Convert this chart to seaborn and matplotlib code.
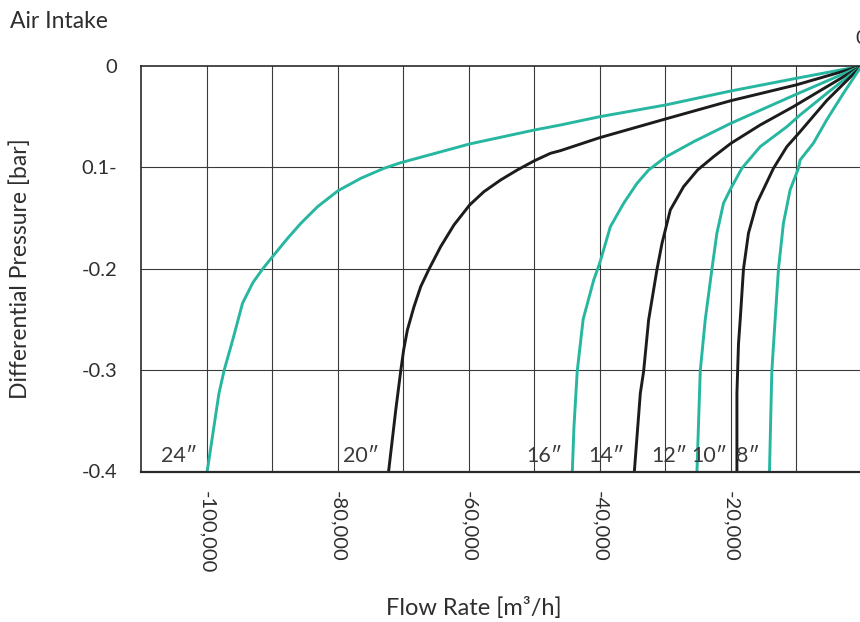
import matplotlib
matplotlib.use("Agg")
import matplotlib.pyplot as plt
import seaborn as sns
import pandas as pd

# ---- data ----
sizes = ["24″", "20″", "16″", "14″", "12″", "10″", "8″"]
colors = ["teal", "black", "teal", "black", "teal", "black", "teal"]

flow_24 = [0, 10000, 20000, 29950, 39970, 45960, 49920, 59830, 70350, 72900, 76450, 79910,
           83050, 85600, 87620, 89910, 91440, 92900, 94500, 96000, 97300, 98100, 99900]
dp_24 = [0, -0.0122, -0.0247, -0.0385, -0.050, -0.0582, -0.0631, -0.0769, -0.0954, -0.1009,
         -0.1108, -0.123, -0.1388, -0.1552, -0.170, -0.188, -0.2003, -0.2135, -0.2340, -0.2703,
         -0.300, -0.323, -0.400]

flow_20 = [0, 10000, 19940, 29950, 39970, 45960, 47480, 49920, 52560, 55110, 57650, 59830,
           62220, 64250, 66040, 67300, 68320, 69330, 69900, 70350, 71100, 72200]
dp_20 = [0, -0.0187, -0.0342, -0.0523, -0.0707, -0.0835, -0.0861, -0.0934, -0.1026, -0.1125,
         -0.124, -0.1371, -0.1568, -0.1782, -0.2005, -0.2177, -0.2374, -0.2604, -0.280, -0.301,
         -0.339, -0.400]

flow_16 = [0, 10000, 19940, 25640, 29950, 32500, 34270, 36310, 38340, 39970, 40880, 42500,
           43400, 43900, 44150]
dp_16 = [0, -0.028, -0.0565, -0.0747, -0.090, -0.1026, -0.1157, -0.1354, -0.1585, -0.1946,
         -0.211, -0.250, -0.301, -0.356, -0.400]

flow_14 = [0, 10400, 15470, 19940, 22590, 25030, 27160, 29190, 30460, 31220, 32500, 33260,
           33770, 34680]
dp_14 = [0, -0.0401, -0.0582, -0.0763, -0.0895, -0.1026, -0.119, -0.142, -0.175, -0.2005,
         -0.2505, -0.301, -0.323, -0.400]

flow_12 = [0, 5300, 9375, 11400, 15470, 18260, 19940, 21070, 22080, 22840, 23860, 24620, 25120]
dp_12 = [0, -0.027, -0.0483, -0.0599, -0.0796, -0.1009, -0.1206, -0.1354, -0.165, -0.2005,
         -0.2505, -0.301, -0.400]

flow_10 = [0, 5300, 9375, 11400, 13440, 15980, 17260, 18020, 18520, 18780, 19020, 19020]
dp_10 = [0, -0.034, -0.0648, -0.0796, -0.1009, -0.1354, -0.165, -0.2005, -0.2505, -0.274,
         -0.323, -0.400]

flow_8 = [0, 2770, 5300, 7350, 9375, 9630, 10900, 11920, 12680, 13190, 13690, 14050]
dp_8 = [0, -0.027, -0.053, -0.0762, -0.0927, -0.1009, -0.1223, -0.1552, -0.2005, -0.2505,
        -0.301, -0.400]

grid_x = [100000, 90000, 80000, 70000, 60000, 50000, 40000, 30000, 20000, 10000]
grid_y = [-0.1, -0.2, -0.3]
x_ticks = [100000, 80000, 60000, 40000, 20000]
x_ticklabels = ["-100,000", "-80,000", "-60,000", "-40,000", "-20,000"]
y_ticks = [0, -0.1, -0.2, -0.3, -0.4]
y_ticklabels = ["0", "0.1-", "-0.2", "-0.3", "-0.4"]

TEAL = "#27b7a0"
BLACK = "#1c1c1c"
GRID = "#3a3a3a"

flows = [flow_24, flow_20, flow_16, flow_14, flow_12, flow_10, flow_8]
dps = [dp_24, dp_20, dp_16, dp_14, dp_12, dp_10, dp_8]

rows = []
for s, fl, dp in zip(sizes, flows, dps):
    for f, p in zip(fl, dp):
        rows.append({"size": s, "flow": f, "dp": p})
df = pd.DataFrame(rows)
palette = {s: (TEAL if c == "teal" else BLACK) for s, c in zip(sizes, colors)}

# ---- figure ----
sns.set_theme(style="white")
FONT = ["Lato", "DejaVu Sans"]
plt.rcParams["font.family"] = FONT
TXT = "#2e2e2e"

fig = plt.figure(figsize=(8.6, 6.22), dpi=100)
ax = fig.add_axes([141 / 860, 150.5 / 622, (861.5 - 141) / 860, (556 - 150.5) / 622])

ax.set_xlim(110000, 0)
ax.set_ylim(-0.4, 0)

for xv in grid_x:
    ax.axvline(xv, color=GRID, lw=0.8, zorder=0)
for yv in grid_y:
    ax.axhline(yv, color=GRID, lw=0.8, zorder=0)

sns.lineplot(data=df, x="flow", y="dp", hue="size", hue_order=sizes, palette=palette,
             sort=False, estimator=None, units="size", legend=False, lw=2.1, ax=ax,
             solid_joinstyle="round", solid_capstyle="butt")

ax.set_xticks(x_ticks)
ax.set_xticklabels(x_ticklabels, rotation=-90, fontsize=14.5, color=TXT)
ax.set_yticks(y_ticks)
ax.set_yticklabels(y_ticklabels, fontsize=14.5, color=TXT)
ax.tick_params(axis="x", length=0, pad=14)
ax.tick_params(axis="y", length=0, pad=17)

for side in ["left", "bottom", "top"]:
    ax.spines[side].set_visible(True)
    ax.spines[side].set_color("#2a2a2a")
ax.spines["left"].set_linewidth(1.2)
ax.spines["top"].set_linewidth(1.2)
ax.spines["bottom"].set_linewidth(1.6)
ax.spines["right"].set_visible(False)

# curve labels
for s, fl in zip(sizes, flows):
    ax.annotate(s, xy=(fl[-1], -0.4), xytext=(-7, 6.5), textcoords="offset points",
                ha="right", va="baseline", fontsize=15.5, color="#3a3a3a", family=FONT)

# top "0" (cut by the figure edge, as in the reference)
ax.annotate("0", xy=(0, 0), xytext=(0, 14), textcoords="offset points", ha="center",
            va="bottom", fontsize=14.5, color=TXT, annotation_clip=False)

ax.set_xlabel("Flow Rate [m³/h]", fontsize=17, color=TXT)
ax.set_ylabel("Differential Pressure [bar]", fontsize=16.5, color=TXT)
ax.xaxis.set_label_coords((474 - 141) / (861.5 - 141), -(608 - 471.5) / (471.5 - 66))
ax.xaxis.label.set_va("center")
ax.yaxis.set_label_coords(-(141 - 20) / (861.5 - 141), 0.5)
ax.yaxis.label.set_va("center")

fig.text(10 / 860, 1 - 22 / 622, "Air Intake", fontsize=16.5, color=TXT, ha="left", va="center")

fig.savefig("out.png", dpi=100)
